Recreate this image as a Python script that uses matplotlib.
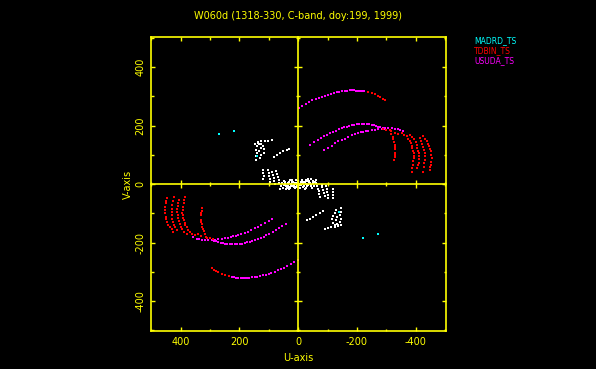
import matplotlib
matplotlib.use("Agg")
import matplotlib.pyplot as plt
import numpy as np
from matplotlib.ticker import MultipleLocator

plt.rcParams['axes.unicode_minus'] = False
plt.rcParams['font.family'] = ['DejaVu Sans']

title = "W060d (1318-330, C-band, doy:199, 1999)"
station_names = ["MADRD_TS", "TDBIN_TS", "USUDA_TS"]
station_colors = ["#00ffff", "#ff0000", "#ff00ff"]
tick_values = [400, 200, 0, -200, -400]
x_label = "U-axis"
y_label = "V-axis"

# ---- one half of the (u, v) samples; the conjugate (-u, -v) is plotted too ----
madrd_u = [270, 219, 139]
madrd_v = [170, 183, 95]

tdbin_u = [-236, -250, -261, -272, -280, -288, -295,
           -290, -300, -315, -330, -340,
           -312, -317, -321, -324, -326, -329, -330, -331, -331, -330, -329, -327,
           -352, -361, -369, -375, -380, -384, -386, -389, -391, -393, -394, -393, -392, -390, -389, -386,
           -380, -388, -395, -400, -403, -406, -408, -410, -411, -411, -410, -408, -406,
           -414, -419, -423, -426, -429, -430, -431, -431, -429, -427, -424,
           -425, -431, -437, -442, -446, -449, -451, -453, -454, -453, -451, -449, -447]
tdbin_v = [315, 312, 307, 302, 298, 292, 287,
           188, 185, 180, 176, 172,
           184, 172, 161, 153, 145, 135, 128, 121, 106, 100, 93, 81,
           175, 169, 163, 156, 148, 140, 132, 123, 115, 106, 97, 88, 78, 66, 55, 43,
           169, 162, 154, 145, 135, 125, 115, 105, 95, 85, 74, 64, 55,
           158, 148, 138, 128, 118, 106, 95, 84, 72, 58, 43,
           163, 155, 146, 138, 129, 120, 112, 100, 89, 77, 66, 57, 49]

usuda_u = [-2, -14, -26, -37, -48, -59, -70, -80, -91, -101, -111, -121, -131, -140, -148, -158,
           -167, -175, -182, -189, -196, -204, -211, -218, -224,
           -41, -54, -66, -77, -87, -98, -108, -118, -127, -138, -148, -157, -165, -174, -182,
           -191, -199, -208, -216, -225, -233, -242, -250, -257, -264, -272, -279, -287, -295,
           -88, -101, -114, -125, -136, -148, -159, -171, -182, -193, -204, -213, -221, -230,
           -238, -250, -261, -272, -284, -295, -306, -318, -329, -338, -346, -357]
usuda_v = [260, 267, 274, 280, 286, 291, 295, 299, 303, 306, 309, 312, 314, 316, 317, 319,
           320, 321, 321, 321, 320, 320, 320, 318, 317,
           135, 143, 150, 157, 163, 169, 175, 179, 183, 187, 191, 194, 197, 199, 201,
           203, 204, 205, 206, 206, 206, 205, 203, 202, 200, 197, 195, 193, 190,
           118, 125, 132, 139, 146, 151, 156, 162, 168, 172, 175, 177, 178, 181,
           183, 185, 186, 188, 190, 191, 191, 191, 190, 188, 186, 180]

other_u = [147, 136, 125, 113, 102, 90,
           141, 144, 141, 144, 145, 133, 128, 132, 126, 130, 120, 116, 118, 137, 125,
           83, 73, 62, 51, 39, 31,
           119, 120, 118, 119, 103, 101, 99, 97, 96, 90, 87, 84, 82, 80,
           75, 72, 70, 66, 64, 60, 62,
           55, 50, 45, 40, 35, 30, 25, 20, 15, 10, 5, 0, 58, 48, 38, 28, 18, 8, 22, 12,
           52, 44, 36, 31, 27, 17, 13, 3, 42, 33, 24, 7]
other_v = [138, 143, 146, 148, 149, 152,
           129, 118, 106, 95, 83, 136, 124, 112, 100, 88, 132, 120, 108, 140, 138,
           93, 100, 106, 112, 118, 121,
           49, 38, 27, 18, 49, 38, 27, 16, 8, 40, 30, 20, 10, 2,
           45, 35, 25, 15, 5, -5, -15,
           5, -3, 8, -5, 3, -10, 0, 6, -4, 3, -2, 10, -8, 12, -12, 14, -6, -9, 15, -14,
           -12, 2, -8, 7, -14, 9, -11, 4, -18, -16, -7, 13]

fig = plt.figure(figsize=(5.96, 3.69), dpi=100, facecolor="black")
pos = [150.7 / 596, 1 - 331 / 369, 295 / 596, 293.7 / 369]
ax = fig.add_axes(pos, facecolor="black")
lim = 502
ax.set_xlim(lim, -lim)
ax.set_ylim(-lim, lim)

yellow = "#ffff00"


def plot_uv(u, v, color):
    u = np.asarray(u, float)
    v = np.asarray(v, float)
    ax.scatter(np.concatenate([u, -u]), np.concatenate([v, -v]), s=3.2, marker="s",
               color=color, linewidths=0, zorder=3)


plot_uv(other_u, other_v, "#ffffff")
plot_uv(usuda_u, usuda_v, station_colors[2])
plot_uv(tdbin_u, tdbin_v, station_colors[1])
plot_uv(madrd_u, madrd_v, station_colors[0])

for s in ax.spines.values():
    s.set_color(yellow)
    s.set_linewidth(1.2)
ax.set_xticks(tick_values)
ax.set_yticks(tick_values)
ax.set_xticklabels([str(t) for t in tick_values])
ax.set_yticklabels([str(t) for t in tick_values], rotation=90, va="center")
ax.xaxis.set_minor_locator(MultipleLocator(100))
ax.yaxis.set_minor_locator(MultipleLocator(100))
ax.tick_params(which="both", direction="in", top=True, right=True, colors=yellow,
               labelcolor=yellow, labelsize=7)
ax.tick_params(which="major", length=3.2, width=1.0, pad=4)
ax.tick_params(which="minor", length=1.8, width=1.0)

# centre cross with ticks
ax2 = fig.add_axes(pos, facecolor="none", sharex=ax, sharey=ax)
ax2.spines["left"].set_position(("data", 0))
ax2.spines["bottom"].set_position(("data", 0))
ax2.spines["top"].set_visible(False)
ax2.spines["right"].set_visible(False)
for k in ("left", "bottom"):
    ax2.spines[k].set_color(yellow)
    ax2.spines[k].set_linewidth(1.2)
ax2.tick_params(which="both", direction="inout", colors=yellow, labelleft=False,
                labelbottom=False)
ax2.tick_params(which="major", length=6, width=1.0)
ax2.tick_params(which="minor", length=3, width=1.0)
ax2.set_zorder(ax.get_zorder() + 1)

fig.text(298 / 596, 1 - 15.7 / 369, title, color=yellow, fontsize=7, ha="center", va="center")
fig.text(298 / 596, 1 - 358 / 369, x_label, color=yellow, fontsize=7, ha="center", va="center")
fig.text(128.3 / 596, 1 - 184.3 / 369, y_label, color=yellow, fontsize=7, ha="center",
         va="center", rotation=90)
for i, (name, col) in enumerate(zip(station_names, station_colors)):
    fig.text(474 / 596, 1 - (41 + 10 * i) / 369, name, color=col, fontsize=5.5,
             ha="left", va="center")

fig.savefig("out.png", dpi=100, facecolor="black")
